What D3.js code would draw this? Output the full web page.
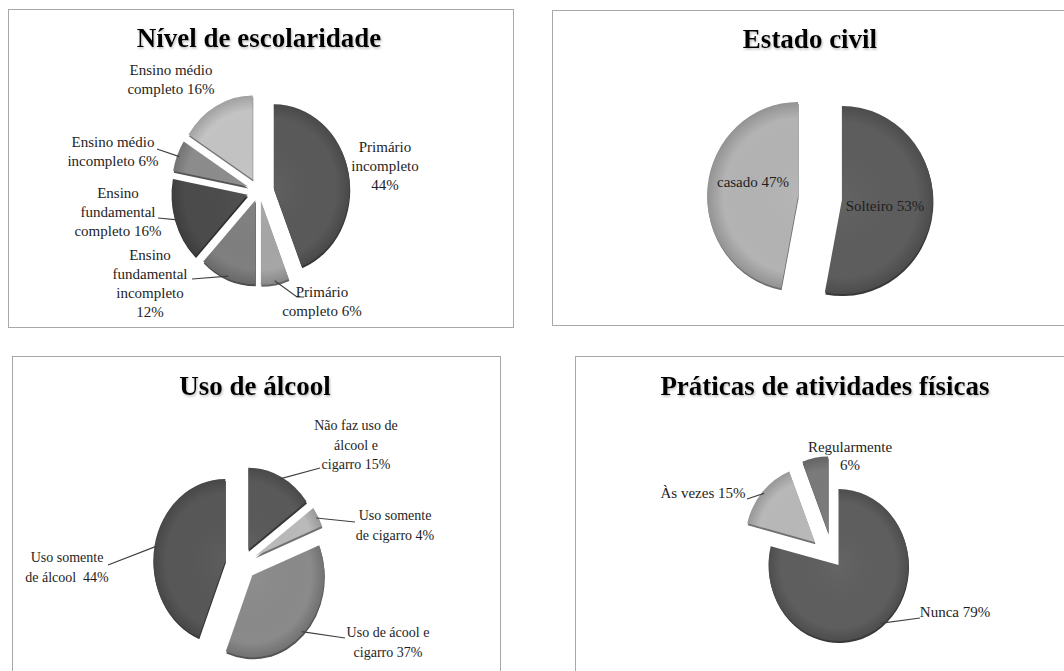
<!DOCTYPE html>
<html>
<head>
<meta charset="utf-8">
<script src="https://cdn.jsdelivr.net/npm/d3@7"></script>
<style>
  body { margin: 0; background: #fff; }
  svg { display: block; }
</style>
</head>
<body>
<svg id="chart" width="1064" height="671"></svg>
<script>
// category names ("\n" = line break in the label, value + % is appended)
var escolaridadeNames = ["Primário\nincompleto\n", "Primário\ncompleto ", "Ensino\nfundamental\nincompleto\n",
  "Ensino\nfundamental\ncompleto ", "Ensino médio\nincompleto ", "Ensino médio\ncompleto "];
var escolaridadeValues = [44, 6, 12, 16, 6, 16];

var civilNames = ["Solteiro ", "casado "];
var civilValues = [53, 47];

var alcoolNames = ["Não faz uso de\nálcool e\ncigarro ", "Uso somente\nde cigarro ", "Uso de ácool e\ncigarro ", "Uso somente\nde álcool  "];
var alcoolValues = [15, 4, 37, 44];

var atividadeNames = ["Nunca ", "Às vezes ", "Regularmente\n"];
var atividadeValues = [79, 15, 6];

var FONT = "'Liberation Serif', 'Times New Roman', 'DejaVu Serif', serif";

// layout of the four panels
var panels = [
  {
    title: "Nível de escolaridade", names: escolaridadeNames, values: escolaridadeValues,
    box: [8.5, 9.5, 505, 318], titleX: 259, titleY: 47,
    cx: 259, cy: 191, rx: 76, ry: 84, explode: [15, 10, 10, 12, 12, 13],
    colors: ["#595959", "#a6a6a6", "#7f7f7f", "#4b4b4b", "#8c8c8c", "#c3c3c3"],
    fontSize: 15, lineH: 19,
    labels: [[385, 152], [322, 297], [150, 260], [118, 198], [113, 147], [171, 75]],
    leaders: [null, [297, 297, 304], [192, 279], [158, 218], [157, 149], null]
  },
  {
    title: "Estado civil", names: civilNames, values: civilValues,
    box: [552.5, 10.5, 520, 315], titleX: 810, titleY: 48,
    cx: 820, cy: 198, rx: 91, ry: 94, explode: [22, 22],
    colors: ["#5d5d5d", "#b3b3b3"],
    fontSize: 15, lineH: 19,
    labels: [[885, 211], [753, 187]],
    leaders: [null, null]
  },
  {
    title: "Uso de álcool", names: alcoolNames, values: alcoolValues,
    box: [12.5, 356.5, 488, 330], titleX: 255, titleY: 395,
    cx: 241, cy: 564, rx: 72, ry: 82, explode: [16, 16, 16, 16],
    colors: ["#595959", "#bababa", "#8a8a8a", "#575757"],
    fontSize: 14, lineH: 19.5,
    labels: [[356, 430], [395, 520], [388, 637], [67, 562]],
    leaders: [[320, 468], [355, 522], [345, 638], [108, 565]]
  },
  {
    title: "Práticas de atividades físicas", names: atividadeNames, values: atividadeValues,
    box: [575.5, 356.5, 500, 330], titleX: 825, titleY: 395,
    cx: 833, cy: 558, rx: 70, ry: 76, explode: [9, 24, 26],
    colors: ["#5e5e5e", "#b8b8b8", "#7a7a7a"],
    fontSize: 15, lineH: 18,
    labels: [[955, 617], [703, 498], [850, 452]],
    leaders: [[920, 618], [747, 499], null]
  }
];

var svg = d3.select("#chart");
var defs = svg.append("defs");

var shadow = defs.append("filter").attr("id", "titleShadow")
  .attr("x", "-10%").attr("y", "-30%").attr("width", "120%").attr("height", "160%");
shadow.append("feDropShadow").attr("dx", 1).attr("dy", 1.5).attr("stdDeviation", 1.2)
  .attr("flood-color", "#777").attr("flood-opacity", 0.5);

var pie = d3.pie().sort(null).value(function (d) { return d; });

panels.forEach(function (p, pi) {
  var g = svg.append("g");

  // rim gradient in the slice's own coords (apex at 0,0)
  var rim = defs.append("radialGradient").attr("id", "rim" + pi)
    .attr("gradientUnits", "userSpaceOnUse")
    .attr("cx", 0).attr("cy", 0).attr("r", p.rx);
  rim.append("stop").attr("offset", "0%").attr("stop-color", "#fff").attr("stop-opacity", 0.04);
  rim.append("stop").attr("offset", "82%").attr("stop-color", "#000").attr("stop-opacity", 0);
  rim.append("stop").attr("offset", "100%").attr("stop-color", "#000").attr("stop-opacity", 0.18);

  g.append("rect")
    .attr("x", p.box[0]).attr("y", p.box[1])
    .attr("width", p.box[2]).attr("height", p.box[3])
    .attr("fill", "#fff").attr("stroke", "#a8a8a8").attr("stroke-width", 1);

  g.append("text")
    .attr("x", p.titleX).attr("y", p.titleY)
    .attr("text-anchor", "middle")
    .attr("font-family", FONT)
    .attr("font-size", 27).attr("font-weight", "bold")
    .attr("fill", "#000")
    .attr("filter", "url(#titleShadow)")
    .text(p.title);

  var arcs = pie(p.values);
  var arc = d3.arc().innerRadius(0).outerRadius(p.rx);
  var k = p.ry / p.rx;

  arcs.forEach(function (a, i) {
    var mid = (a.startAngle + a.endAngle) / 2;
    a.ox = p.cx + p.explode[i] * Math.sin(mid);
    a.oy = p.cy - p.explode[i] * Math.cos(mid);
    a.mid = mid;
  });

  // side / depth
  g.selectAll("path.depth").data(arcs).enter().append("path")
    .attr("class", "depth")
    .attr("transform", function (a) { return "translate(" + (a.ox + 0.5) + "," + (a.oy + 2) + ") scale(1," + k + ")"; })
    .attr("d", arc)
    .attr("fill", function (a, i) { return d3.color(p.colors[i]).darker(1.4); });

  g.selectAll("path.slice").data(arcs).enter().append("path")
    .attr("class", "slice")
    .attr("transform", function (a) { return "translate(" + a.ox + "," + a.oy + ") scale(1," + k + ")"; })
    .attr("d", arc)
    .attr("fill", function (a, i) { return p.colors[i]; });

  g.selectAll("path.shade").data(arcs).enter().append("path")
    .attr("class", "shade")
    .attr("transform", function (a) { return "translate(" + a.ox + "," + a.oy + ") scale(1," + k + ")"; })
    .attr("d", arc)
    .attr("fill", "url(#rim" + pi + ")");

  // leader lines
  arcs.forEach(function (a, i) {
    var l = p.leaders[i];
    if (!l) return;
    var sx = a.ox + p.rx * 0.97 * Math.sin(a.mid);
    var sy = a.oy - p.ry * 0.97 * Math.cos(a.mid);
    var pts = [[sx, sy], [l[0], l[1]]];
    if (l.length > 2) pts.push([l[2], l[1]]);
    g.append("path")
      .attr("d", d3.line()(pts))
      .attr("fill", "none").attr("stroke", "#404040").attr("stroke-width", 1.2);
  });

  // labels
  arcs.forEach(function (a, i) {
    var lines = (p.names[i] + p.values[i] + "%").split("\n");
    var t = g.append("text")
      .attr("x", p.labels[i][0]).attr("y", p.labels[i][1])
      .attr("text-anchor", "middle")
      .attr("font-family", FONT)
      .attr("font-size", p.fontSize)
      .attr("fill", "#1e1e1e")
      .style("white-space", "pre");
    lines.forEach(function (s, j) {
      t.append("tspan")
        .attr("x", p.labels[i][0])
        .attr("y", p.labels[i][1] + j * p.lineH)
        .text(s);
    });
  });
});
</script>
</body>
</html>
